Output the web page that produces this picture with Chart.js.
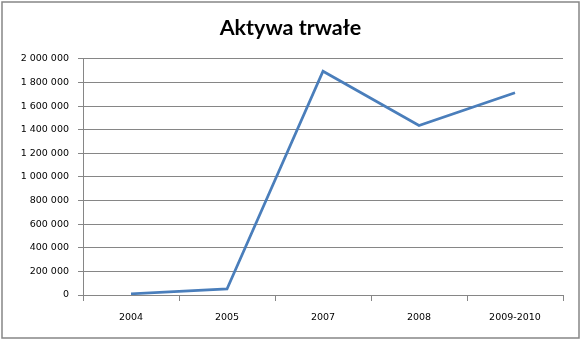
<!DOCTYPE html>
<html>
<head>
<meta charset="utf-8">
<script src="https://cdn.jsdelivr.net/npm/chart.js@4"></script>
<style>
  html, body { margin: 0; padding: 0; background: #fff; }
  #wrap { width: 581px; height: 341px; }
</style>
</head>
<body>
<div id="wrap"><canvas id="c" width="581" height="341"></canvas></div>
<script>
const categories = ["2004", "2005", "2007", "2008", "2009-2010"];
const values = [10000, 51000, 1895000, 1435000, 1712000];
const yTicks = [0, 200000, 400000, 600000, 800000, 1000000, 1200000, 1400000, 1600000, 1800000, 2000000];
const titleText = "Aktywa trwałe";

function fmt(v) {
  return String(v).replace(/\B(?=(\d{3})+(?!\d))/g, " ");
}

const borderPlugin = {
  id: "outerBorder",
  afterDraw(chart) {
    const ctx = chart.ctx;
    ctx.save();
    ctx.strokeStyle = "#868686";
    ctx.lineWidth = 1.5;
    ctx.strokeRect(2, 2, 577, 336);
    ctx.restore();
  }
};

new Chart(document.getElementById("c"), {
  type: "line",
  data: {
    labels: categories,
    datasets: [{
      data: values,
      borderColor: "#4A7EBB",
      borderWidth: 2.75,
      pointRadius: 0,
      tension: 0,
      fill: false
    }]
  },
  options: {
    responsive: false,
    animation: false,
    devicePixelRatio: 1,
    layout: { padding: { left: 0, right: 0, top: 0, bottom: 0 } },
    plugins: {
      legend: { display: false },
      tooltip: { enabled: false },
      title: {
        display: true,
        text: titleText,
        color: "#000",
        font: { family: "Lato", size: 21.5, weight: "bold", lineHeight: 1.2 },
        padding: { top: 15.6, bottom: 17.4 }
      }
    },
    scales: {
      x: {
        type: "category",
        offset: true,
        afterFit(s) { s.height = 46; },
        grid: {
          offset: true,
          drawOnChartArea: false,
          drawTicks: true,
          tickLength: 6,
          color: "#868686"
        },
        border: { display: true, color: "#868686", width: 1 },
        ticks: {
          color: "#000",
          font: { family: "DejaVu Sans", size: 9.5 },
          padding: 11,
          maxRotation: 0
        }
      },
      y: {
        min: 0,
        max: 2000000,
        afterFit(s) { s.width = 83; },
        afterBuildTicks(s) { s.ticks = yTicks.map(v => ({ value: v })); },
        grid: {
          color: "#868686",
          lineWidth: 1,
          drawTicks: true,
          tickLength: 5
        },
        border: { display: true, color: "#868686", width: 1 },
        ticks: {
          color: "#000",
          font: { family: "DejaVu Sans", size: 9.5 },
          padding: 9,
          callback: (v) => fmt(v)
        }
      },
      spacer: {
        type: "linear",
        position: "right",
        min: 0,
        max: 1,
        afterFit(s) { s.width = 18; },
        grid: { display: false, drawTicks: false },
        border: { display: false },
        ticks: { display: false }
      }
    }
  },
  plugins: [borderPlugin]
});
</script>
</body>
</html>
